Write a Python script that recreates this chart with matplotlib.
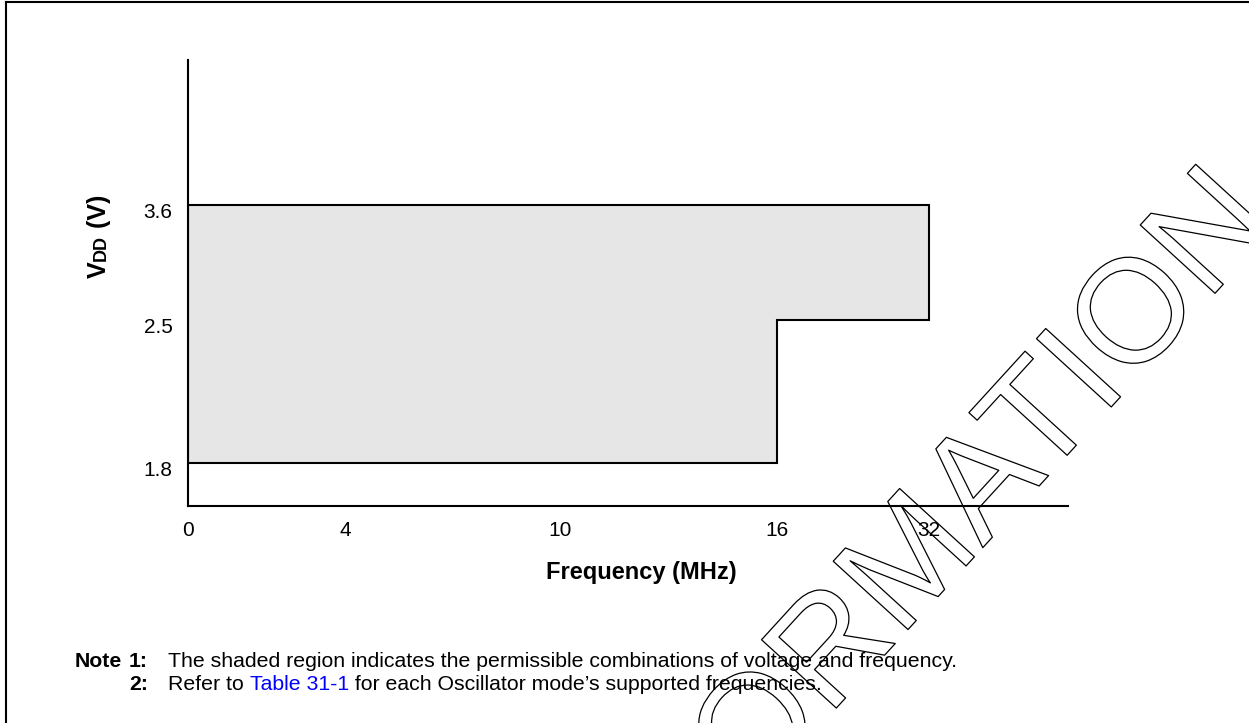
import numpy as np
import matplotlib
matplotlib.use('Agg')
import matplotlib.pyplot as plt
from matplotlib import patheffects
from matplotlib.lines import Line2D
from matplotlib.transforms import ScaledTranslation

plt.rcParams['font.family'] = ['Liberation Sans', 'DejaVu Sans']

# Data
freq_ticks = [0, 4, 10, 16, 32]
vdd_ticks = [1.8, 2.5, 3.6]
region_freq = [0, 16, 16, 32, 32, 0]
region_vdd = [1.8, 1.8, 2.5, 2.5, 3.6, 3.6]

# The axes are not linear: piecewise scale anchors (value -> pixel along the axis)
x_anchor_val = [0, 4, 10, 16, 32, 40]
x_anchor_px = [0, 157, 372, 589, 741, 880]
y_anchor_val = [1.59, 1.8, 2.5, 3.6, 4.99]
y_anchor_px = [0, 43, 186, 301, 446]

W, H = 1249, 723
fig = plt.figure(figsize=(W / 100, H / 100), dpi=100)
ax = fig.add_axes([188 / W, (H - 506) / H, 880 / W, 446 / H])

ax.set_xscale('function', functions=(lambda v: np.interp(v, x_anchor_val, x_anchor_px),
                                     lambda p: np.interp(p, x_anchor_px, x_anchor_val)))
ax.set_yscale('function', functions=(lambda v: np.interp(v, y_anchor_val, y_anchor_px),
                                     lambda p: np.interp(p, y_anchor_px, y_anchor_val)))
ax.set_xlim(x_anchor_val[0], x_anchor_val[-1])
ax.set_ylim(y_anchor_val[0], y_anchor_val[-1])

ax.fill(region_freq, region_vdd, facecolor='#e6e6e6', edgecolor='black', linewidth=1.5)

for side in ['top', 'right']:
    ax.spines[side].set_visible(False)
for side in ['left', 'bottom']:
    ax.spines[side].set_linewidth(1.5)

ax.set_xticks(freq_ticks)
ax.set_xticklabels([str(v) for v in freq_ticks])
ax.set_yticks(vdd_ticks)
ax.set_yticklabels([f'{v:.1f}' for v in vdd_ticks])
ax.xaxis.set_minor_locator(matplotlib.ticker.NullLocator())
ax.yaxis.set_minor_locator(matplotlib.ticker.NullLocator())
ax.tick_params(axis='both', length=0, labelsize=15)
ax.tick_params(axis='x', pad=11)
ax.tick_params(axis='y', pad=11)

# y tick labels sit a little below their level in the original
shift = ScaledTranslation(0, -4 / 72, fig.dpi_scale_trans)
for tick in ax.yaxis.get_major_ticks():
    tick.label1.set_transform(tick.label1.get_transform() + shift)

ax.set_xlabel('Frequency (MHz)', fontsize=17, fontweight='bold', va='center')
ax.xaxis.set_label_coords((641 - 188) / 880, -(573 - 506) / 446)

renderer = fig.canvas.get_renderer()

# y label: V with small-cap DD, then (V)
x_base = 106 / W
y_pos = (H - 278) / H
for txt, size in [('V', 18), ('DD', 13), (' (V)', 18)]:
    t = fig.text(x_base, y_pos, txt, rotation=90, rotation_mode='anchor',
                 ha='left', va='baseline', fontsize=size, fontweight='bold')
    y_pos = t.get_window_extent(renderer).y1 / H

# Notes
note_size = 15.3
y1, y2 = (H - 667) / H, (H - 690) / H
fig.text(75 / W, y1, 'Note', fontsize=note_size, fontweight='bold', va='baseline')
fig.text(148 / W, y1, '1:', fontsize=note_size, fontweight='bold', va='baseline', ha='right')
fig.text(168 / W, y1,
         'The shaded region indicates the permissible combinations of voltage and frequency.',
         fontsize=note_size, va='baseline')
fig.text(148 / W, y2, '2:', fontsize=note_size, fontweight='bold', va='baseline', ha='right')
x_pos = 168 / W
for txt, col in [('Refer to ', 'black'), ('Table 31-1', '#0000ff'),
                 (" for each Oscillator mode\u2019s supported frequencies.", 'black')]:
    t = fig.text(x_pos, y2, txt, fontsize=note_size, va='baseline', color=col)
    x_pos = t.get_window_extent(renderer).x1 / W

# Page frame (left and top)
fig.add_artist(Line2D([6 / W, 6 / W], [0, 1 - 2 / H], color='black', linewidth=1.5))
fig.add_artist(Line2D([6 / W, 1], [1 - 2 / H, 1 - 2 / H], color='black', linewidth=1.5))

# Outlined watermark
fig.text(935 / W, (H - 600) / H, 'INFORMATION', rotation=47.6, rotation_mode='anchor',
         ha='center', va='baseline', fontsize=106, color='none',
         path_effects=[patheffects.withStroke(linewidth=0.9, foreground='black')])

fig.savefig('out.png', dpi=100)
